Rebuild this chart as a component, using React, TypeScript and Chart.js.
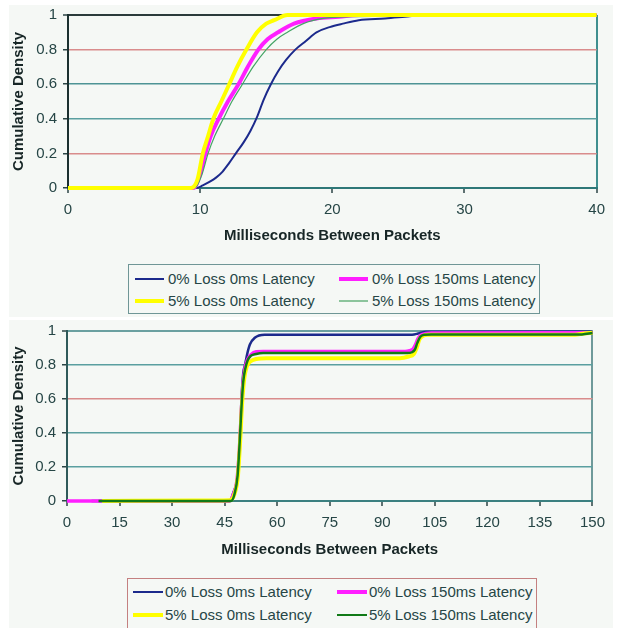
import React, { useEffect, useRef } from "react";
import { Chart, registerables } from "chart.js";

Chart.register(...registerables);

const FONT = "'Liberation Sans', Arial, Helvetica, sans-serif";

// ---------- labels ----------
const seriesLabels = [
  "0% Loss 0ms Latency",
  "0% Loss 150ms Latency",
  "5% Loss 0ms Latency",
  "5% Loss 150ms Latency",
];
const xTitle = "Milliseconds Between Packets";
const yTitle = "Cumulative Density";

// ---------- top chart (0–40 ms) ----------
const topXMax = 40;
const topXStep = 10;
const topBlueX = [0, 9.7, 10.2, 10.7, 11.2, 11.7, 12.2, 12.7, 13.3, 13.8, 14.3, 14.8, 15.35, 15.9, 16.5, 17.2, 18.0, 18.8, 19.8, 20.8, 22.0, 24.0, 25.5, 27.0, 40];
const topBlueY = [0, 0, 0.015, 0.035, 0.06, 0.095, 0.145, 0.2, 0.265, 0.33, 0.41, 0.51, 0.6, 0.675, 0.74, 0.8, 0.85, 0.9, 0.93, 0.95, 0.97, 0.98, 0.99, 1, 1];
const topMagentaX = [0, 9.5, 10.0, 10.4, 10.8, 11.4, 12.1, 12.9, 13.6, 14.4, 15.1, 15.9, 17.1, 18.8, 20.5, 22.0, 40];
const topMagentaY = [0, 0, 0.08, 0.2, 0.3, 0.4, 0.5, 0.6, 0.7, 0.8, 0.86, 0.9, 0.95, 0.98, 0.99, 1, 1];
const topYellowX = [0, 9.3, 9.8, 10.2, 10.6, 11.0, 11.6, 12.2, 12.8, 13.5, 14.3, 15.0, 15.6, 16.6, 40];
const topYellowY = [0, 0, 0.05, 0.2, 0.3, 0.4, 0.5, 0.6, 0.7, 0.8, 0.9, 0.95, 0.97, 1, 1];
const topGreenX = [0, 9.6, 10.1, 10.6, 11.1, 11.75, 12.4, 13.2, 14.0, 15.0, 15.8, 16.6, 17.8, 19.3, 21.5, 25.0, 28.0, 40];
const topGreenY = [0, 0, 0.07, 0.2, 0.3, 0.4, 0.5, 0.6, 0.7, 0.8, 0.86, 0.9, 0.95, 0.98, 0.99, 0.995, 1, 1];

// ---------- bottom chart (0–150 ms) ----------
const botXMax = 150;
const botXStep = 15;
const botBlueX = [7, 46.5, 47.5, 48.3, 48.9, 49.4, 49.8, 50.3, 50.8, 51.5, 52.2, 53.6, 56.4, 98.5, 100.2, 101.0, 102.5, 150];
const botBlueY = [0, 0, 0.05, 0.1, 0.2, 0.4, 0.6, 0.75, 0.8, 0.87, 0.92, 0.96, 0.978, 0.978, 0.985, 0.99, 0.995, 0.997];
const botMagentaX = [0, 46.3, 47.5, 48.5, 49.2, 49.7, 50.2, 50.8, 51.5, 52.5, 54.0, 56.0, 96.5, 97.8, 98.8, 99.5, 100.2, 101.0, 102.5, 104, 150];
const botMagentaY = [0, 0, 0.04, 0.12, 0.3, 0.5, 0.68, 0.78, 0.83, 0.86, 0.878, 0.88, 0.88, 0.885, 0.895, 0.92, 0.955, 0.975, 0.985, 0.988, 0.99];
const botYellowX = [10, 36, 46.5, 47.8, 48.8, 49.5, 50.0, 50.6, 51.3, 52.3, 54.0, 57.0, 95.0, 97.5, 99.0, 99.8, 100.6, 101.5, 103.0, 145.0, 147.5, 150];
const botYellowY = [0, 0.003, 0.005, 0.04, 0.15, 0.38, 0.58, 0.72, 0.79, 0.82, 0.835, 0.84, 0.84, 0.85, 0.865, 0.9, 0.95, 0.97, 0.978, 0.978, 0.985, 0.99];
const botGreenX = [9, 46.8, 47.8, 48.7, 49.3, 49.8, 50.3, 50.9, 51.6, 52.5, 54.0, 56.0, 97.0, 98.5, 99.3, 100.0, 100.8, 102.0, 104.0, 147.0, 150];
const botGreenY = [0, 0, 0.04, 0.15, 0.35, 0.55, 0.7, 0.78, 0.83, 0.855, 0.865, 0.87, 0.87, 0.875, 0.89, 0.93, 0.965, 0.978, 0.98, 0.98, 0.988];

// ---------- styles ----------
const PANEL = "#f5f8f5";
const TICK_TEXT = "#264646";
const TITLE_TEXT = "#172626";
const C_BLUE = "#1c2a8c";
const C_MAGENTA = "#ff1fff";
const C_YELLOW = "#ffff00";
const C_GREEN_TOP = "#45a466";
const C_GREEN_BOT = "#117a17";

const topYGrid = ["rgba(0,0,0,0)", "#d98c8c", "#5a9fa0", "#4e9495", "#d98c8c", "#2b3b3b"];
const botYGrid = ["rgba(0,0,0,0)", "#5a9fa0", "#5a9fa0", "#d98c8c", "#5a9fa0", "#6aa0a0"];

const pts = (xs: number[], ys: number[]) => xs.map((x, i) => ({ x, y: ys[i] }));

function ds(label: string, xs: number[], ys: number[], color: string, width: number, order: number) {
  return {
    label,
    data: pts(xs, ys),
    borderColor: color,
    backgroundColor: color,
    borderWidth: width,
    pointRadius: 0,
    fill: false,
    cubicInterpolationMode: "monotone" as const,
    order,
    clip: 5,
  };
}

function makeConfig(p: {
  datasets: any[];
  xMax: number;
  xStep: number;
  yGrid: string[];
  yBorder: string;
  xBorder: string;
  rightBorder: string;
  yWidth: number;
  xHeight: number;
  padding: any;
  titleBottom: number;
}): any {
  return {
    type: "line",
    data: { datasets: p.datasets },
    options: {
      animation: false,
      responsive: false,
      devicePixelRatio: 1,
      layout: { padding: p.padding },
      plugins: { legend: { display: false }, tooltip: { enabled: false } },
      scales: {
        x: {
          type: "linear",
          min: 0,
          max: p.xMax,
          ticks: {
            stepSize: p.xStep,
            padding: 8,
            color: TICK_TEXT,
            font: { family: FONT, size: 15 },
            maxRotation: 0,
          },
          grid: {
            color: (c: any) => (c.tick && c.tick.value === p.xMax ? p.rightBorder : "rgba(0,0,0,0)"),
            lineWidth: 2,
            tickColor: "#2b4545",
            tickWidth: 1.5,
            tickLength: 5,
          },
          border: { color: p.xBorder, width: 2 },
          title: {
            display: true,
            text: xTitle,
            color: TITLE_TEXT,
            font: { family: FONT, size: 15, weight: "bold" },
            padding: { top: 0, bottom: p.titleBottom },
          },
          afterFit: (s: any) => {
            s.height = p.xHeight;
          },
        },
        y: {
          min: 0,
          max: 1,
          ticks: {
            stepSize: 0.2,
            padding: 6,
            color: TICK_TEXT,
            font: { family: FONT, size: 15 },
            callback: (v: any) => String(Math.round(Number(v) * 10) / 10),
          },
          grid: {
            color: (c: any) => p.yGrid[c.index] || "rgba(0,0,0,0)",
            lineWidth: (c: any) => (c.index === 5 ? 2 : 1.5),
            tickColor: "#2b4545",
            tickWidth: 1.5,
            tickLength: 5,
          },
          border: { color: p.yBorder, width: 2 },
          title: {
            display: true,
            text: yTitle,
            color: TITLE_TEXT,
            font: { family: FONT, size: 15, weight: "bold" },
            padding: { top: 1, bottom: 0 },
          },
          afterFit: (s: any) => {
            s.width = p.yWidth;
          },
        },
      },
    },
  };
}

function ChartCanvas(props: { left: number; top: number; width: number; height: number; config: () => any }) {
  const ref = useRef<HTMLCanvasElement>(null);
  useEffect(() => {
    const chart = new Chart(ref.current as HTMLCanvasElement, props.config());
    return () => chart.destroy();
  }, []);
  return (
    <canvas
      ref={ref}
      width={props.width}
      height={props.height}
      style={{
        position: "absolute",
        left: props.left,
        top: props.top,
        width: props.width,
        height: props.height,
      }}
    />
  );
}

type LegendItem = { label: string; color: string; width: number };

function Legend(props: {
  left: number;
  top: number;
  width: number;
  height: number;
  border: string;
  items: LegendItem[];
  rowY: number[];
  colLine: number[];
  lineLen: number;
  textGap: number;
}) {
  return (
    <div
      style={{
        position: "absolute",
        left: props.left,
        top: props.top,
        width: props.width,
        height: props.height,
        border: `1px solid ${props.border}`,
        background: PANEL,
        boxSizing: "border-box",
      }}
    >
      {props.items.map((it, i) => {
        const row = Math.floor(i / 2);
        const col = i % 2;
        const cy = props.rowY[row];
        const lx = props.colLine[col];
        return (
          <React.Fragment key={i}>
            <div
              style={{
                position: "absolute",
                left: lx,
                top: cy - it.width / 2,
                width: props.lineLen,
                height: it.width,
                background: it.color,
              }}
            />
            <div
              style={{
                position: "absolute",
                left: lx + props.lineLen + props.textGap,
                top: cy - 9,
                height: 18,
                lineHeight: "18px",
                fontFamily: FONT,
                fontSize: 15,
                color: TICK_TEXT,
                whiteSpace: "nowrap",
              }}
            >
              {it.label}
            </div>
          </React.Fragment>
        );
      })}
    </div>
  );
}

export default function App() {
  const topConfig = () =>
    makeConfig({
      datasets: [
        ds(seriesLabels[0], topBlueX, topBlueY, C_BLUE, 2, 3),
        ds(seriesLabels[1], topMagentaX, topMagentaY, C_MAGENTA, 4, 2),
        ds(seriesLabels[2], topYellowX, topYellowY, C_YELLOW, 4, 0),
        ds(seriesLabels[3], topGreenX, topGreenY, C_GREEN_TOP, 1.2, 1),
      ],
      xMax: topXMax,
      xStep: topXStep,
      yGrid: topYGrid,
      yBorder: "#1b3030",
      xBorder: "#2e7878",
      rightBorder: "#3f8f8f",
      yWidth: 59,
      xHeight: 130,
      padding: { left: 0, right: 10, top: 15, bottom: 0 },
      titleBottom: 73,
    });

  const botConfig = () =>
    makeConfig({
      datasets: [
        ds(seriesLabels[0], botBlueX, botBlueY, C_BLUE, 2.5, 3),
        ds(seriesLabels[1], botMagentaX, botMagentaY, C_MAGENTA, 3.5, 2),
        ds(seriesLabels[2], botYellowX, botYellowY, C_YELLOW, 4, 1),
        ds(seriesLabels[3], botGreenX, botGreenY, C_GREEN_BOT, 2.5, 0),
      ],
      xMax: botXMax,
      xStep: botXStep,
      yGrid: botYGrid,
      yBorder: "#2f5a5a",
      xBorder: "#3b8080",
      rightBorder: "#6f9a9a",
      yWidth: 58,
      xHeight: 127,
      padding: { left: 0, right: 15, top: 11, bottom: 0 },
      titleBottom: 69,
    });

  const topItems: LegendItem[] = [
    { label: seriesLabels[0], color: C_BLUE, width: 2 },
    { label: seriesLabels[1], color: C_MAGENTA, width: 4 },
    { label: seriesLabels[2], color: C_YELLOW, width: 4 },
    { label: seriesLabels[3], color: "#8cc49c", width: 1.5 },
  ];
  const botItems: LegendItem[] = [
    { label: seriesLabels[0], color: C_BLUE, width: 2 },
    { label: seriesLabels[1], color: C_MAGENTA, width: 4 },
    { label: seriesLabels[2], color: C_YELLOW, width: 4 },
    { label: seriesLabels[3], color: C_GREEN_BOT, width: 2.5 },
  ];

  return (
    <div
      style={{
        position: "absolute",
        left: 0,
        top: 0,
        width: 621,
        height: 628,
        overflow: "hidden",
        background: "#ffffff",
      }}
    >
      <div style={{ position: "absolute", left: 9, top: 5, width: 604, height: 312, background: PANEL }} />
      <div style={{ position: "absolute", left: 9, top: 320, width: 604, height: 308, background: PANEL }} />
      <ChartCanvas left={9} top={0} width={604} height={318} config={topConfig} />
      <ChartCanvas left={9} top={316} width={604} height={312} config={botConfig} />
      <Legend
        left={128}
        top={264}
        width={412}
        height={50}
        border="#6f9696"
        items={topItems}
        rowY={[14, 36]}
        colLine={[6, 210]}
        lineLen={29}
        textGap={4}
      />
      <Legend
        left={127}
        top={578}
        width={410}
        height={60}
        border="#c48080"
        items={botItems}
        rowY={[13, 36]}
        colLine={[5, 209]}
        lineLen={30}
        textGap={2}
      />
    </div>
  );
}
